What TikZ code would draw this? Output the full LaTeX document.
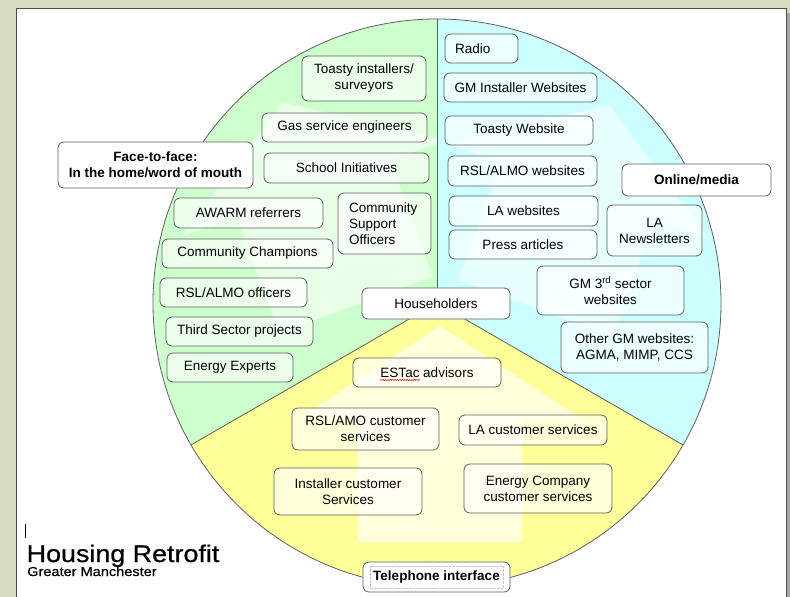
\documentclass[tikz,border=0pt]{standalone}
\usepackage{fontspec}
\setmainfont{Liberation Sans}
\newfontfamily\logofont[FakeStretch=1.12,FakeBold=0.7]{Liberation Sans}
\usetikzlibrary{decorations.pathmorphing}
\definecolor{bgframe}{RGB}{212,222,190}
\definecolor{secgreen}{RGB}{204,255,204}
\definecolor{secblue}{RGB}{204,255,255}
\definecolor{secyellow}{RGB}{255,255,153}
\definecolor{edgegray}{RGB}{95,95,95}
\tikzset{
  box/.style={draw=edgegray, line width=0.8pt, rounded corners=6pt, fill=white, fill opacity=0.62, text opacity=1, inner sep=0pt, align=center, font=\fontsize{13.5}{16}\selectfont},
  solidbox/.style={box, fill opacity=1},
  boldbox/.style={box, fill opacity=1, font=\fontsize{13.5}{16}\selectfont\bfseries},
  divider/.style={draw=edgegray, line width=0.8pt},
  watermark/.style={fill=white, fill opacity=0.55}
}
\begin{document}
\begin{tikzpicture}[x=1pt, y=-1pt]
\useasboundingbox (0,0) rectangle (790,597);
% frame
\fill[bgframe] (0,0) rectangle (790,597);
\fill[white] (16,8) rectangle (786,597);
\fill[black!35] (787,13) rectangle (790,597);
\draw[black!70, line width=0.8pt] (16,597) -- (16,8) -- (786,8) -- (786,597);

\coordinate (C) at (437,303);
\coordinate (top) at (437,19);
\coordinate (ll) at (191,445);
\coordinate (lr) at (683,445);

% sectors
\begin{scope}
  \clip (C) circle[radius=284];
  \fill[secgreen] (437,303) -- (437,-200) -- (-300,-200) -- (-300,728.5) -- cycle;
  \fill[secblue] (437,303) -- (437,-200) -- (1200,-200) -- (1200,743.5) -- cycle;
  \fill[secyellow] (437,303) -- (-300,728.5) -- (-300,1000) -- (1200,1000) -- (1200,743.5) -- cycle;
\end{scope}
% watermark houses
\begin{scope}
  \clip (C) circle[radius=284];
  \clip (437,303) -- (437,-200) -- (-300,-200) -- (-300,728.5) -- cycle;
  \fill[watermark, shift={(282,102)}, rotate=20] (0,0) -- (140,92) -- (82,92) -- (82,216) -- (-82,216) -- (-82,92) -- (-140,92) -- cycle;
\end{scope}
\begin{scope}
  \clip (C) circle[radius=284];
  \clip (437,303) -- (437,-200) -- (1200,-200) -- (1200,743.5) -- cycle;
  \fill[watermark, shift={(609,105)}, rotate=-20] (0,0) -- (140,92) -- (82,92) -- (82,216) -- (-82,216) -- (-82,92) -- (-140,92) -- cycle;
\end{scope}
\begin{scope}
  \clip (C) circle[radius=284];
  \clip (437,303) -- (-300,728.5) -- (-300,1000) -- (1200,1000) -- (1200,743.5) -- cycle;
  \fill[watermark, fill opacity=0.65, shift={(440,326)}] (0,0) -- (140,92) -- (82,92) -- (82,216) -- (-82,216) -- (-82,92) -- (-140,92) -- cycle;
\end{scope}
% outline and dividers
\draw[divider] (C) circle[radius=284];
\draw[divider] (C) -- (top);
\draw[divider] (C) -- (ll);
\draw[divider] (C) -- (lr);

% green sector boxes
\node[box, minimum width=124pt, minimum height=45pt] (toasty) at (364,78.5) {Toasty installers/\\surveyors};
\node[box, minimum width=165pt, minimum height=29pt] (gas) at (344.5,127.5) {Gas service engineers};
\node[boldbox, minimum width=195pt, minimum height=46pt] (face) at (155.5,165) {Face-to-face:\\In the home/word of mouth};
\node[box, minimum width=165pt, minimum height=30pt] (school) at (346.5,168) {School Initiatives};
\node[box, minimum width=149pt, minimum height=30pt] (awarm) at (248.5,213) {AWARM referrers};
\node[box, minimum width=93pt, minimum height=61pt, text width=71pt, inner xsep=11pt, align=left] (cso) at (384.5,223.5) {Community\\Support\\Officers};
\node[box, minimum width=171pt, minimum height=29pt] (champ) at (247.5,253.5) {Community Champions};
\node[box, minimum width=147pt, minimum height=29pt] (rslofc) at (233.5,292.5) {RSL/ALMO officers};
\node[box, minimum width=147pt, minimum height=29pt] (third) at (239.5,331.5) {Third Sector projects};
\node[box, minimum width=126pt, minimum height=29pt] (enexp) at (230,367.5) {Energy Experts};

% centre
\node[solidbox, minimum width=148pt, minimum height=31pt] (house) at (436,303.5) {Householders};

% yellow sector boxes
\node[box, minimum width=148pt, minimum height=29pt] (estac) at (427,372.5) {ESTac advisors};
\draw[red, line width=0.45pt, decorate, decoration={snake, amplitude=0.6pt, segment length=2.4pt}] (380,380) -- (420,380);
\node[box, minimum width=147pt, minimum height=42pt] (rslamo) at (365.5,429) {RSL/AMO customer\\services};
\node[box, minimum width=148pt, minimum height=30pt] (lacs) at (533,430) {LA customer services};
\node[box, minimum width=148pt, minimum height=47pt] (instcs) at (348,491.5) {Installer customer\\Services};
\node[box, minimum width=148pt, minimum height=49pt] (energyco) at (538,488.5) {Energy Company\\customer services};
\node[boldbox, minimum width=147pt, minimum height=30pt] (tel) at (436.5,577) {Telephone interface};
\draw[gray!45, densely dotted, line width=0.35pt] (370,566) rectangle (503,588);

% blue sector boxes
\node[box, minimum width=73pt, minimum height=29pt, text width=53pt, inner xsep=10pt, align=left] (radio) at (481.5,48.5) {Radio};
\node[box, minimum width=153pt, minimum height=29pt] (gmi) at (520.5,87.5) {GM Installer Websites};
\node[box, minimum width=148pt, minimum height=29pt] (toastyweb) at (519,130.5) {Toasty Website};
\node[box, minimum width=149pt, minimum height=30pt] (rslweb) at (522.5,171) {RSL/ALMO websites};
\node[box, minimum width=149pt, minimum height=30pt] (laweb) at (523.5,211) {LA websites};
\node[box, minimum width=148pt, minimum height=29pt] (press) at (523,244.5) {Press articles};
\node[boldbox, minimum width=149pt, minimum height=32pt] (online) at (696.5,180) {Online/media};
\node[box, minimum width=95pt, minimum height=51pt] (lanews) at (654.5,230.5) {LA\\Newsletters};
\node[box, minimum width=147pt, minimum height=49pt] (gm3) at (610.5,290.5) {GM 3\textsuperscript{rd} sector\\websites};
\node[box, minimum width=147pt, minimum height=51pt] (other) at (634.5,347.5) {Other GM websites:\\AGMA, MIMP, CCS};

% logo
\draw[black, line width=1pt] (25.5,524) -- (25.5,538);
\node[anchor=base west, inner sep=0pt, font=\logofont\fontsize{24}{24}\selectfont] (logo) at (26.5,562) {Housing Retrofit};
\node[anchor=base west, inner sep=0pt, font=\logofont\fontsize{13}{13}\selectfont] (logosub) at (27,576) {Greater Manchester};
\end{tikzpicture}
\end{document}
